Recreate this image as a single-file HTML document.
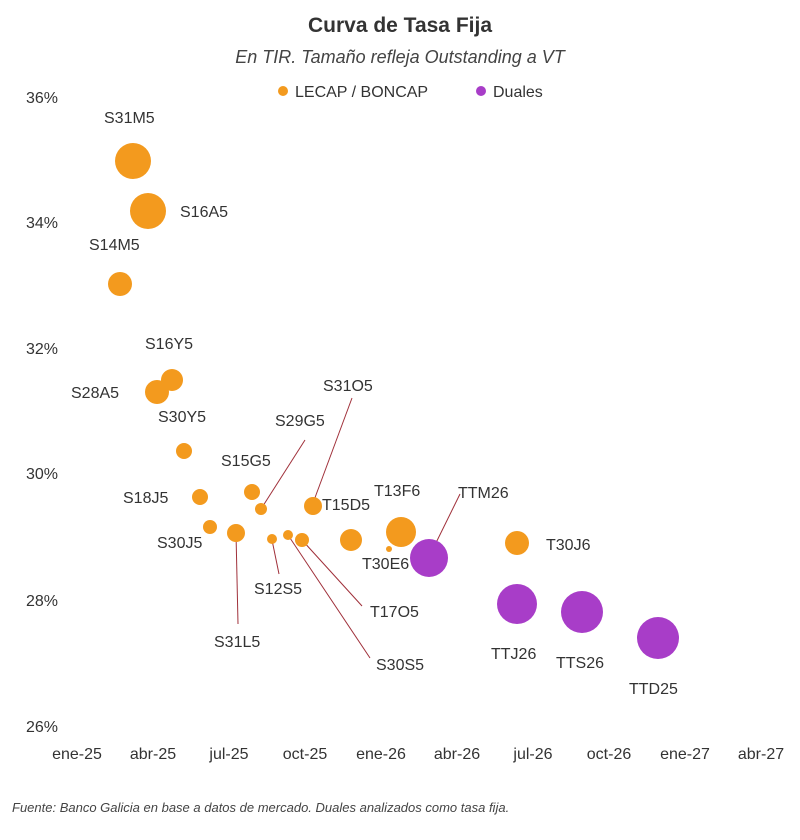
<!DOCTYPE html>
<html><head><meta charset="utf-8"><style>
body{margin:0;background:#fff;}
svg text{font-family:"Liberation Sans",sans-serif;}
</style></head><body>
<svg width="800" height="835" viewBox="0 0 800 835" xmlns="http://www.w3.org/2000/svg">
<rect width="800" height="835" fill="#fff"/>
<text x="400" y="32" text-anchor="middle" font-size="21" font-weight="bold" fill="#333">Curva de Tasa Fija</text>
<text x="400" y="63" text-anchor="middle" font-size="18" font-style="italic" fill="#444">En TIR. Tamaño refleja Outstanding a VT</text>
<circle cx="283" cy="91" r="5" fill="#F39A1E"/>
<text x="295" y="97" font-size="16" fill="#333">LECAP / BONCAP</text>
<circle cx="481" cy="91" r="5" fill="#A83DC8"/>
<text x="493" y="97" font-size="16" fill="#333">Duales</text>
<g font-size="16" fill="#333" text-anchor="end">
<text x="58" y="103">36%</text><text x="58" y="228">34%</text><text x="58" y="354">32%</text>
<text x="58" y="479">30%</text><text x="58" y="606">28%</text><text x="58" y="732">26%</text>
</g>
<g font-size="16" fill="#333" text-anchor="middle">
<text x="77" y="759">ene-25</text><text x="153" y="759">abr-25</text><text x="229" y="759">jul-25</text>
<text x="305" y="759">oct-25</text><text x="381" y="759">ene-26</text><text x="457" y="759">abr-26</text>
<text x="533" y="759">jul-26</text><text x="609" y="759">oct-26</text><text x="685" y="759">ene-27</text>
<text x="761" y="759">abr-27</text>
</g>
<g stroke="#A0303A" stroke-width="1" fill="none">
<line x1="261" y1="509" x2="305" y2="440"/>
<line x1="352" y1="398" x2="313" y2="503"/>
<line x1="460" y1="494" x2="430" y2="555"/>
<line x1="272" y1="540" x2="279" y2="574"/>
<line x1="236" y1="533" x2="238" y2="624"/>
<line x1="302" y1="540" x2="362" y2="606"/>
<line x1="288" y1="535" x2="370" y2="658"/>
</g>
<g fill="#F39A1E">
<circle cx="133" cy="161" r="18"/><circle cx="148" cy="211" r="18"/><circle cx="120" cy="284" r="12"/>
<circle cx="172" cy="380" r="11"/><circle cx="157" cy="392" r="12"/><circle cx="184" cy="451" r="8"/>
<circle cx="200" cy="497" r="8"/><circle cx="252" cy="492" r="8"/><circle cx="261" cy="509" r="6"/>
<circle cx="313" cy="506" r="9"/><circle cx="210" cy="527" r="7"/><circle cx="236" cy="533" r="9"/>
<circle cx="272" cy="539" r="5"/><circle cx="288" cy="535" r="5"/><circle cx="302" cy="540" r="7"/>
<circle cx="351" cy="540" r="11"/><circle cx="401" cy="532" r="15"/><circle cx="389" cy="549" r="3"/>
<circle cx="517" cy="543" r="12"/>
</g>
<g fill="#A83DC8">
<circle cx="429" cy="558" r="19"/><circle cx="517" cy="604" r="20"/><circle cx="582" cy="612" r="21"/><circle cx="658" cy="638" r="21"/>
</g>
<g font-size="16" fill="#333">
<text x="104" y="123">S31M5</text><text x="180" y="217">S16A5</text><text x="89" y="250">S14M5</text>
<text x="145" y="349">S16Y5</text><text x="71" y="398">S28A5</text><text x="158" y="422">S30Y5</text>
<text x="221" y="466">S15G5</text><text x="275" y="426">S29G5</text><text x="323" y="391">S31O5</text>
<text x="322" y="510">T15D5</text><text x="374" y="496">T13F6</text><text x="458" y="498">TTM26</text>
<text x="123" y="503">S18J5</text><text x="157" y="548">S30J5</text><text x="254" y="594">S12S5</text>
<text x="214" y="647">S31L5</text><text x="370" y="617">T17O5</text><text x="376" y="670">S30S5</text>
<text x="362" y="569">T30E6</text><text x="546" y="550">T30J6</text><text x="491" y="659">TTJ26</text>
<text x="556" y="668">TTS26</text><text x="629" y="694">TTD25</text>
</g>
<text x="12" y="812" font-size="13" font-style="italic" fill="#444">Fuente: Banco Galicia en base a datos de mercado. Duales analizados como tasa fija.</text>
</svg>
</body></html>
